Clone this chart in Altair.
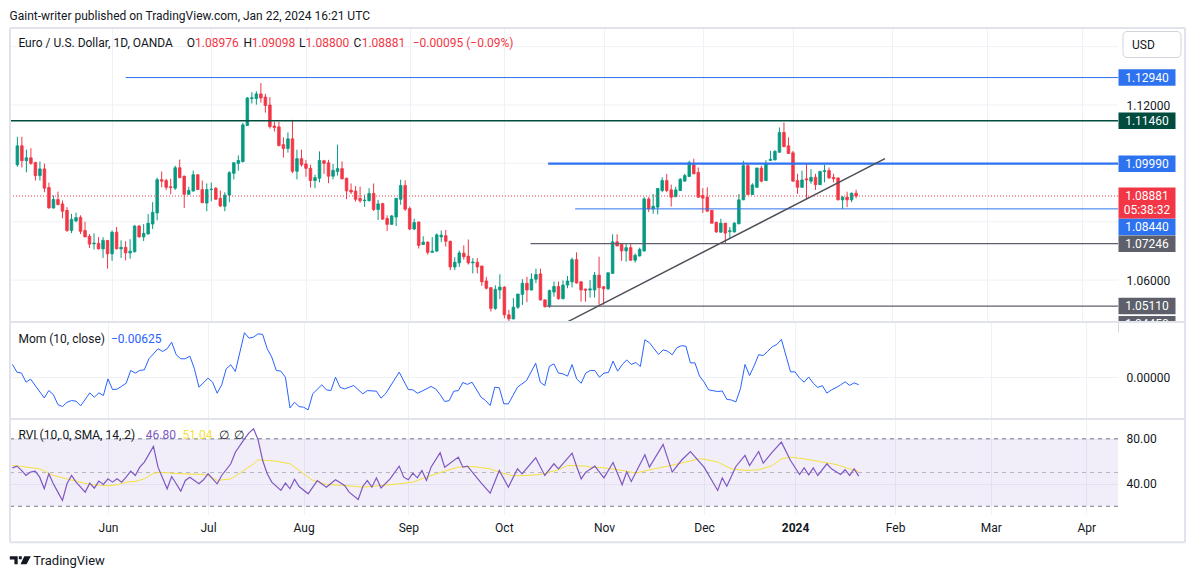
import altair as alt
import pandas as pd

# ---------------- data ----------------
OPEN = [1.0995, 1.1060, 1.1009, 1.1019, 1.1003, 1.0958, 1.0981, 1.0917, 1.0847, 1.0876,
        1.0861, 1.0839, 1.0770, 1.0803, 1.0815, 1.0770, 1.0750, 1.0724, 1.0726, 1.0707,
        1.0736, 1.0690, 1.0764, 1.0707, 1.0712, 1.0693, 1.0697, 1.0785, 1.0748, 1.0758,
        1.0792, 1.0830, 1.0944, 1.0941, 1.0920, 1.0915, 1.0985, 1.0956, 1.0894, 1.0905,
        1.0961, 1.0910, 1.0864, 1.0910, 1.0915, 1.0880, 1.0853, 1.0891, 1.0966, 1.1000,
        1.1006, 1.1130, 1.1222, 1.1222, 1.1238, 1.1227, 1.1200, 1.1128, 1.1125, 1.1064,
        1.1051, 1.1084, 1.0973, 1.1016, 1.0998, 1.0983, 1.0941, 1.0949, 1.1009, 1.1002,
        1.0956, 1.0972, 1.0982, 1.0949, 1.0908, 1.0905, 1.0880, 1.0872, 1.0872, 1.0897,
        1.0842, 1.0862, 1.0811, 1.0791, 1.0816, 1.0877, 1.0924, 1.0845, 1.0775, 1.0799,
        1.0722, 1.0730, 1.0695, 1.0699, 1.0748, 1.0752, 1.0733, 1.0645, 1.0659, 1.0692,
        1.0682, 1.0659, 1.0661, 1.0648, 1.0597, 1.0574, 1.0503, 1.0566, 1.0576, 1.0481,
        1.0467, 1.0507, 1.0551, 1.0589, 1.0566, 1.0603, 1.0621, 1.0532, 1.0511, 1.0559,
        1.0578, 1.0536, 1.0583, 1.0594, 1.0670, 1.0594, 1.0569, 1.0566, 1.0566, 1.0617,
        1.0577, 1.0570, 1.0623, 1.0731, 1.0722, 1.0700, 1.0711, 1.0668, 1.0683, 1.0700,
        1.0878, 1.0844, 1.0850, 1.0907, 1.0941, 1.0909, 1.0886, 1.0907, 1.0939, 1.0955,
        1.0995, 1.0969, 1.0890, 1.0884, 1.0839, 1.0798, 1.0764, 1.0795, 1.0766, 1.0765,
        1.0793, 1.0875, 1.0992, 1.0893, 1.0918, 1.0984, 1.0941, 1.1010, 1.1012, 1.1038,
        1.1106, 1.1060, 1.1036, 1.0941, 1.0918, 1.0947, 1.0939, 1.0952, 1.0927, 1.0972,
        1.0975, 1.0952, 1.0950, 1.0875, 1.0884, 1.0875, 1.08976]
HIGH = [1.1091, 1.1091, 1.1047, 1.1052, 1.1005, 1.1006, 1.0999, 1.0934, 1.0890, 1.0903,
        1.0873, 1.0850, 1.0827, 1.0831, 1.0822, 1.0800, 1.0758, 1.0760, 1.0747, 1.0747,
        1.0737, 1.0770, 1.0782, 1.0736, 1.0733, 1.0740, 1.0789, 1.0789, 1.0792, 1.0826,
        1.0867, 1.0951, 1.0972, 1.0947, 1.0947, 1.0992, 1.1013, 1.0958, 1.0920, 1.0975,
        1.0962, 1.0941, 1.0931, 1.0934, 1.0918, 1.0907, 1.0901, 1.0973, 1.1004, 1.1027,
        1.1139, 1.1227, 1.1244, 1.1247, 1.1275, 1.1238, 1.1227, 1.1143, 1.1143, 1.1089,
        1.1106, 1.1149, 1.1047, 1.1047, 1.1012, 1.0995, 1.0961, 1.1041, 1.1012, 1.1012,
        1.0998, 1.1064, 1.1007, 1.0951, 1.0931, 1.0922, 1.0920, 1.0893, 1.0915, 1.0931,
        1.0875, 1.0865, 1.0822, 1.0822, 1.0881, 1.0944, 1.0942, 1.0852, 1.0810, 1.0800,
        1.0750, 1.0733, 1.0747, 1.0760, 1.0770, 1.0772, 1.0735, 1.0678, 1.0701, 1.0719,
        1.0739, 1.0675, 1.0675, 1.0650, 1.0611, 1.0576, 1.0582, 1.0620, 1.0579, 1.0498,
        1.0538, 1.0553, 1.0603, 1.0611, 1.0623, 1.0639, 1.0639, 1.0534, 1.0567, 1.0595,
        1.0595, 1.0599, 1.0614, 1.0677, 1.0695, 1.0596, 1.0571, 1.0600, 1.0628, 1.0680,
        1.0580, 1.0626, 1.0757, 1.0757, 1.0723, 1.0725, 1.0726, 1.0691, 1.0711, 1.0884,
        1.0884, 1.0895, 1.0915, 1.0952, 1.0964, 1.0927, 1.0920, 1.0950, 1.0964, 1.1009,
        1.1016, 1.0986, 1.0915, 1.0918, 1.0840, 1.0800, 1.0810, 1.0796, 1.0782, 1.0799,
        1.0895, 1.1009, 1.0998, 1.0932, 1.0985, 1.0992, 1.1011, 1.1043, 1.1045, 1.1123,
        1.1140, 1.1089, 1.1043, 1.0964, 1.0975, 1.0998, 1.0980, 1.0964, 1.0975, 1.0995,
        1.0986, 1.0964, 1.0951, 1.0888, 1.0903, 1.0900, 1.09098]
LOW = [1.0988, 1.0986, 1.0969, 1.0995, 1.0941, 1.0941, 1.0901, 1.0845, 1.0845, 1.0856,
       1.0812, 1.0765, 1.0761, 1.0798, 1.0758, 1.0747, 1.0710, 1.0705, 1.0705, 1.0676,
       1.0639, 1.0666, 1.0705, 1.0676, 1.0668, 1.0673, 1.0695, 1.0745, 1.0734, 1.0756,
       1.0775, 1.0805, 1.0918, 1.0908, 1.0894, 1.0909, 1.0949, 1.0847, 1.0892, 1.0904,
       1.0909, 1.0864, 1.0836, 1.0870, 1.0875, 1.0850, 1.0836, 1.0867, 1.0945, 1.0975,
       1.1003, 1.1128, 1.1205, 1.1201, 1.1208, 1.1174, 1.1119, 1.1109, 1.1058, 1.1020,
       1.1037, 1.0966, 1.0945, 1.0989, 1.0954, 1.0917, 1.0915, 1.0935, 1.0964, 1.0932,
       1.0945, 1.0958, 1.0945, 1.0877, 1.0895, 1.0869, 1.0865, 1.0851, 1.0870, 1.0837,
       1.0806, 1.0806, 1.0768, 1.0790, 1.0785, 1.0858, 1.0837, 1.0771, 1.0771, 1.0708,
       1.0720, 1.0687, 1.0694, 1.0698, 1.0731, 1.0715, 1.0634, 1.0634, 1.0645, 1.0670,
       1.0653, 1.0623, 1.0623, 1.0580, 1.0568, 1.0492, 1.0498, 1.0535, 1.0469, 1.0448,
       1.0465, 1.0501, 1.0515, 1.0524, 1.0564, 1.0589, 1.0530, 1.0505, 1.0505, 1.0543,
       1.0533, 1.0534, 1.0572, 1.0575, 1.0588, 1.0526, 1.0526, 1.0540, 1.0540, 1.0515,
       1.0516, 1.0566, 1.0622, 1.0716, 1.0666, 1.0663, 1.0667, 1.0660, 1.0680, 1.0697,
       1.0833, 1.0827, 1.0825, 1.0901, 1.0901, 1.0852, 1.0884, 1.0905, 1.0939, 1.0954,
       1.0963, 1.0882, 1.0830, 1.0835, 1.0794, 1.0762, 1.0762, 1.0725, 1.0744, 1.0763,
       1.0791, 1.0874, 1.0892, 1.0892, 1.0917, 1.0935, 1.0940, 1.1009, 1.1010, 1.1037,
       1.1056, 1.1032, 1.0938, 1.0895, 1.0917, 1.0878, 1.0930, 1.0909, 1.0926, 1.0935,
       1.0947, 1.0935, 1.0873, 1.0844, 1.0850, 1.0867, 1.08800]
CLOSE = [1.1060, 1.1009, 1.1019, 1.1000, 1.0958, 1.0981, 1.0915, 1.0847, 1.0876, 1.0859,
         1.0836, 1.0770, 1.0808, 1.0814, 1.0767, 1.0748, 1.0723, 1.0727, 1.0707, 1.0736,
         1.0690, 1.0764, 1.0707, 1.0712, 1.0693, 1.0699, 1.0785, 1.0748, 1.0760, 1.0795,
         1.0832, 1.0944, 1.0939, 1.0918, 1.0917, 1.0985, 1.0951, 1.0894, 1.0907, 1.0961,
         1.0910, 1.0865, 1.0910, 1.0912, 1.0877, 1.0854, 1.0891, 1.0968, 1.1002, 1.1010,
         1.1132, 1.1224, 1.1225, 1.1238, 1.1224, 1.1198, 1.1126, 1.1123, 1.1061, 1.1051,
         1.1084, 1.0973, 1.1016, 1.0995, 1.0983, 1.0941, 1.0951, 1.1010, 1.1000, 1.0956,
         1.0976, 1.0982, 1.0947, 1.0906, 1.0902, 1.0877, 1.0872, 1.0874, 1.0897, 1.0842,
         1.0861, 1.0809, 1.0791, 1.0820, 1.0880, 1.0924, 1.0843, 1.0775, 1.0797, 1.0719,
         1.0730, 1.0695, 1.0699, 1.0755, 1.0754, 1.0733, 1.0645, 1.0661, 1.0693, 1.0680,
         1.0659, 1.0662, 1.0645, 1.0594, 1.0572, 1.0503, 1.0568, 1.0576, 1.0481, 1.0467,
         1.0507, 1.0552, 1.0589, 1.0566, 1.0603, 1.0619, 1.0532, 1.0509, 1.0564, 1.0578,
         1.0536, 1.0583, 1.0597, 1.0670, 1.0590, 1.0566, 1.0565, 1.0570, 1.0617, 1.0574,
         1.0570, 1.0625, 1.0731, 1.0717, 1.0700, 1.0711, 1.0668, 1.0685, 1.0705, 1.0878,
         1.0844, 1.0853, 1.0914, 1.0941, 1.0907, 1.0884, 1.0909, 1.0945, 1.0958, 1.1002,
         1.0964, 1.0884, 1.0881, 1.0836, 1.0795, 1.0765, 1.0795, 1.0761, 1.0769, 1.0795,
         1.0875, 1.0992, 1.0893, 1.0926, 1.0984, 1.0939, 1.0998, 1.1014, 1.1041, 1.1106,
         1.1057, 1.1034, 1.0939, 1.0918, 1.0943, 1.0943, 1.0952, 1.0927, 1.0972, 1.0975,
         1.0950, 1.0947, 1.0875, 1.0884, 1.0875, 1.08976, 1.08881]

MOM_IDX = [0, 1, 2, 3, 4, 7, 8, 9, 10, 11, 12, 13, 14, 15, 17, 18, 19, 20, 21, 22, 23, 24, 25,
           26, 27, 28, 29, 30, 31, 32, 33, 34, 35, 36, 37, 38, 39, 40, 41, 43, 44, 45, 46, 47,
           48, 49, 51, 52, 53, 54, 55, 56, 57, 58, 59, 60, 61, 62, 63, 64, 65, 66, 68, 69, 70,
           71, 72, 73, 74, 75, 77, 78, 80, 81, 82, 85, 87, 88, 89, 90, 92, 93, 94, 95, 96, 97,
           98, 99, 100, 101, 103, 104, 105, 106, 107, 108, 109, 110, 111, 113, 115, 116, 117,
           118, 119, 120, 121, 122, 123, 124, 125, 126, 127, 128, 129, 130, 131, 132, 133, 134,
           135, 136, 137, 138, 139, 140, 142, 143, 144, 145, 146, 147, 148, 149, 150, 151, 152,
           153, 154, 155, 156, 157, 158, 159, 160, 161, 162, 163, 164, 165, 166, 167, 168, 169,
           171, 172, 173, 174, 175, 176, 177, 178, 179, 180, 181, 182, 183, 184, 185, 186]
MOM_VAL = [0.0106, 0.0042, 0.0034, -0.0041, -0.0016, -0.0172, -0.0111, -0.0144, -0.0227,
           -0.0244, -0.0208, -0.0194, -0.0199, -0.0238, -0.0130, -0.0166, -0.0130, -0.0152,
           -0.0014, -0.0102, -0.0099, -0.0075, -0.0050, 0.0056, 0.0034, 0.0056, 0.0061, 0.0153,
           0.0194, 0.0236, 0.0214, 0.0236, 0.0291, 0.0186, 0.0153, 0.0153, 0.0175, 0.0070,
           -0.0083, -0.0008, -0.0041, -0.0133, -0.0063, 0.0070, 0.0103, 0.0047, 0.0369, 0.0324,
           0.0333, 0.0360, 0.0355, 0.0236, 0.0167, 0.0056, 0.0050, 0.0000, -0.0255, -0.0208,
           -0.0244, -0.0249, -0.0271, -0.0138, -0.0063, -0.0105, -0.0111, 0.0000, -0.0083,
           -0.0097, -0.0083, -0.0069, -0.0138, -0.0111, -0.0116, -0.0174, -0.0138, 0.0042,
           -0.0102, -0.0105, -0.0133, -0.0116, -0.0077, -0.0097, -0.0144, -0.0202, -0.0194,
           -0.0116, -0.0111, -0.0044, -0.0060, -0.0041, -0.0166, -0.0194, -0.0235, -0.0083,
           -0.0088, -0.0221, -0.0221, -0.0152, -0.0083, -0.0027, 0.0116, -0.0041, -0.0069,
           0.0089, 0.0111, 0.0034, 0.0028, 0.0009, 0.0105, -0.0014, -0.0050, 0.0034, 0.0056,
           0.0056, 0.0000, 0.0034, 0.0039, 0.0133, 0.0050, 0.0103, 0.0144, 0.0106, 0.0122,
           0.0089, 0.0311, 0.0286, 0.0189, 0.0227, 0.0216, 0.0186, 0.0244, 0.0261, 0.0258,
           0.0119, 0.0119, 0.0010, -0.0040, -0.0105, -0.0112, -0.0119, -0.0114, -0.0184,
           -0.0189, -0.0205, -0.0095, 0.0106, 0.0014, 0.0094, 0.0187, 0.0180, 0.0215, 0.0253,
           0.0272, 0.0314, 0.0045, 0.0044, -0.0008, -0.0041, 0.0002, -0.0050, -0.0085, -0.0070,
           -0.0132, -0.0105, -0.0087, -0.0064, -0.0038, -0.0068, -0.0047, -0.00625]

RVI_IDX = [0, 1, 2, 3, 4, 5, 6, 7, 8, 9, 10, 11, 12, 13, 14, 16, 17, 18, 19, 20, 21, 22, 23,
           24, 25, 26, 27, 28, 29, 31, 32, 34, 35, 36, 37, 38, 39, 40, 41, 42, 43, 44, 45, 46,
           48, 49, 51, 52, 53, 54, 55, 56, 57, 59, 60, 61, 62, 63, 65, 67, 69, 71, 73, 74, 76,
           77, 78, 79, 80, 81, 83, 85, 86, 87, 88, 89, 90, 91, 92, 94, 95, 98, 99, 100, 103,
           105, 107, 109, 111, 112, 115, 117, 119, 120, 123, 124, 125, 126, 127, 128, 130, 132,
           134, 135, 136, 139, 140, 143, 145, 147, 149, 152, 155, 156, 157, 159, 161, 162, 164,
           165, 167, 169, 171, 173, 174, 175, 176, 177, 179, 180, 182, 183, 184, 185, 186]
RVI_VAL = [54.2, 55.7, 51.9, 47.4, 50.4, 51.3, 45.9, 35.6, 48.9, 40.0, 32.6, 25.2, 40.0, 47.4,
           41.5, 32.6, 40.6, 36.1, 42.4, 39.4, 44.4, 41.5, 44.4, 41.5, 45.9, 51.3, 47.4, 54.8,
           59.3, 73.2, 54.8, 35.6, 46.5, 40.0, 33.5, 43.0, 45.9, 43.0, 40.0, 43.6, 48.9, 44.4,
           40.0, 47.4, 57.8, 68.1, 80.0, 85.3, 88.9, 79.1, 60.7, 48.9, 41.5, 34.1, 40.6, 35.6,
           44.1, 37.6, 31.1, 42.9, 37.0, 43.6, 38.5, 32.6, 26.1, 37.6, 42.9, 37.0, 45.3, 36.4,
           44.4, 55.7, 45.9, 43.6, 49.5, 45.3, 51.9, 43.0, 54.8, 67.6, 54.8, 63.7, 54.8, 55.7,
           40.9, 31.7, 51.9, 37.0, 53.3, 48.9, 63.1, 47.4, 57.8, 53.3, 67.3, 55.4, 44.4, 50.4,
           53.0, 55.7, 45.3, 58.9, 39.1, 50.7, 42.1, 65.8, 54.8, 75.0, 50.4, 60.7, 68.7, 54.8,
           34.1, 45.3, 37.9, 55.4, 65.2, 56.3, 68.7, 58.4, 68.1, 77.0, 60.7, 48.3, 54.2, 48.0,
           54.2, 47.4, 57.8, 53.3, 48.3, 52.5, 47.4, 53.3, 46.8]
SMA_IDX = [0, 2, 6, 9, 12, 17, 21, 23, 25, 27, 29, 31, 33, 37, 42, 43, 45, 48, 50, 53, 54, 58,
           61, 63, 66, 69, 73, 77, 81, 85, 88, 91, 95, 98, 101, 105, 107, 110, 113, 116, 120,
           122, 126, 127, 130, 134, 137, 140, 144, 147, 151, 152, 155, 158, 161, 164, 167, 169,
           171, 174, 178, 181, 184, 186]
SMA_VAL = [56.3, 55.4, 53.3, 47.4, 44.4, 39.4, 38.2, 39.1, 41.5, 42.1, 44.4, 49.5, 50.1, 48.9,
           48.3, 47.4, 43.0, 44.4, 49.5, 57.8, 61.3, 60.1, 57.8, 51.9, 43.0, 39.4, 38.5, 37.0,
           38.5, 40.0, 41.5, 45.9, 51.3, 54.8, 55.4, 53.3, 50.4, 47.1, 47.4, 48.3, 52.4, 56.3,
           55.7, 54.8, 54.2, 51.9, 49.5, 52.4, 55.7, 58.4, 62.2, 61.9, 59.3, 53.3, 51.9, 52.4,
           56.3, 62.2, 63.7, 62.2, 59.3, 57.2, 53.3, 51.04]

MONTH_IDX = [21, 43, 64, 87, 108, 130, 152, 172, 194, 215, 236]
MONTH_LBL = ["Jun", "Jul", "Aug", "Sep", "Oct", "Nov", "Dec", "2024", "Feb", "Mar", "Apr"]

PRICE_GRID = [1.04, 1.06, 1.08, 1.10, 1.12, 1.14]
PRICE_TICKS = [1.12, 1.06]
LEVEL_PRICE = [1.12940, 1.11460, 1.09990, 1.08440, 1.07246, 1.05110]
LEVEL_FROM = [24.0, -5.0, 117.7, 123.7, 113.8, 117.4]
OFFSCREEN_LEVEL = [1.04450]
TREND_IDX = [122.0, 192.4]
TREND_PRICE = [1.0457, 1.1016]
RVI_LEVELS = [80, 50, 20]
RVI_TICKS = [80, 40]
MOM_TICKS = [0.0]

# ---------------- styling / layout ----------------
FONT = "Roboto"
INK = "#131722"
GREEN, RED = "#089981", "#f23645"
BLUE, DKGREEN, GREY = "#2d72ef", "#004d40", "#5d606b"
PURPLE, YELLOW = "#7e57c2", "#f5e13c"
GRID, FRAME = "#eef1f6", "#e0e3eb"

W = 1108
H_P, H_M, H_R = 294, 97, 95
X_DOM = [-0.527, 242.97]
P_DOM = [1.04563, 1.14639]
M_DOM = [-0.03469, 0.04582]
R_DOM = [13.16, 97.6]
RIGHT = 1175
BOXX = 1137

ONE = pd.DataFrame({"k": [0]})


def minus(s):
    return s.replace("-", "\u2212")


def label(s, x, y, color=INK, size=12, align="left", weight="normal"):
    return alt.Chart(ONE).mark_text(align=align, baseline="middle", fontSize=size, font=FONT,
                                    color=color, fontWeight=weight, clip=False).encode(
        x=alt.value(x), y=alt.value(y), text=alt.value(s))


def vrule(x, y0, y1, color=FRAME, w=2):
    return alt.Chart(ONE).mark_rule(color=color, strokeWidth=w, clip=False).encode(
        x=alt.value(x), y=alt.value(y0), y2=alt.value(y1))


def hrule(y, x0, x1, color=FRAME, w=2):
    return alt.Chart(ONE).mark_rule(color=color, strokeWidth=w, clip=False).encode(
        x=alt.value(x0), x2=alt.value(x1), y=alt.value(y))


XS = alt.Scale(domain=X_DOM, nice=False, zero=False)
AX_XG = alt.Axis(values=MONTH_IDX, labels=False, ticks=False, domain=False, grid=True,
                 gridColor=GRID, title=None)
lbl_expr = " : ".join(f"datum.value == {i} ? '{t}'" for i, t in zip(MONTH_IDX, MONTH_LBL)) + " : ''"
bold_idx = MONTH_IDX[MONTH_LBL.index("2024")]
AX_XB = alt.Axis(values=MONTH_IDX, labelExpr=lbl_expr, ticks=False, domain=False, grid=True,
                 gridColor=GRID, title=None, labelPadding=8, labelOverlap=False, labelFlush=False,
                 labelFontWeight={"condition": {"test": f"datum.value == {bold_idx}", "value": "bold"},
                                  "value": "normal"})


def XP(f, axis=AX_XG):
    return alt.X(f, type="quantitative", scale=XS, axis=axis)


YS_P = alt.Scale(domain=P_DOM, nice=False, zero=False)
AX_P = alt.Axis(orient="right", values=PRICE_TICKS, format=".5f", grid=False, ticks=False,
                domain=False, labelPadding=8, title=None, labelAlign="left")


def YP(f):
    return alt.Y(f, type="quantitative", scale=YS_P, axis=AX_P)


# ---------------- price pane ----------------
N = len(CLOSE)
df = pd.DataFrame({"i": list(range(N)), "o": OPEN, "h": HIGH, "l": LOW, "c": CLOSE})
updown = alt.condition("datum.c >= datum.o", alt.value(GREEN), alt.value(RED))

anchor = alt.Chart(ONE).mark_rect(opacity=0).encode(
    x=alt.value(-2), x2=alt.value(1170), y=alt.value(-19.5), y2=alt.value(0))
hgrid = alt.Chart(pd.DataFrame({"p": PRICE_GRID})).mark_rule(color=GRID, clip=True).encode(
    x=alt.value(0), x2=alt.value(W), y=YP("p"))
wicks = alt.Chart(df).mark_rule(strokeWidth=1, clip=True).encode(
    x=XP("i"), y=YP("l"), y2="h", color=updown)
bodies = alt.Chart(df).mark_bar(size=2.6, strokeWidth=0.8, clip=True).encode(
    x=XP("i"), y=YP("o"), y2="c", color=updown, stroke=updown)

LEVEL_STYLE = [(BLUE, 1), (DKGREEN, 1.5), (BLUE, 2.2), (BLUE, 1), (GREY, 1.2), (GREY, 1.2)]
levels = []
for p, s, (col, sw) in zip(LEVEL_PRICE, LEVEL_FROM, LEVEL_STYLE):
    levels.append(alt.Chart(pd.DataFrame({"s": [s], "p": [p]})).mark_rule(
        color=col, strokeWidth=sw, clip=True).encode(x=XP("s"), x2=alt.value(W), y=YP("p")))

tdf = pd.DataFrame({"i": [TREND_IDX[0]], "i2": [TREND_IDX[1]],
                    "p": [TREND_PRICE[0]], "p2": [TREND_PRICE[1]]})
trend = alt.Chart(tdf).mark_rule(color="#4c4f59", strokeWidth=1.5, clip=True).encode(
    x=XP("i"), x2="i2", y=YP("p"), y2="p2")

last = alt.Chart(pd.DataFrame({"p": [CLOSE[-1]]})).mark_rule(
    color=RED, strokeDash=[1, 2], strokeWidth=1, clip=True).encode(
    x=alt.value(0), x2=alt.value(W), y=YP("p"))


def box(price, color, dy=0.0, h=16.5, w=57.0):
    d = pd.DataFrame({"p": [price]})
    r = h / w
    path = f"M-1,-{r:.4f}L1,-{r:.4f}L1,{r:.4f}L-1,{r:.4f}Z"
    return alt.Chart(d).mark_point(shape=path, size=w * w, filled=True, opacity=1, color=color,
                                   strokeWidth=0, yOffset=dy, clip=False).encode(
        x=alt.value(BOXX), y=YP("p"))


def boxtext(price, text, dy=0.0):
    d = pd.DataFrame({"p": [price], "t": [text]})
    return alt.Chart(d).mark_text(color="white", fontSize=12, font=FONT, align="center",
                                  baseline="middle", yOffset=dy, clip=False).encode(
        x=alt.value(BOXX), y=YP("p"), text="t:N")


box_colors = [BLUE, DKGREEN, BLUE, BLUE, GREY, GREY]
box_shift = [0, 0, 0, 18, 0, 0]
boxes = []
for p, col, dy in zip(LEVEL_PRICE, box_colors, box_shift):
    boxes += [box(p, col, dy), boxtext(p, f"{p:.5f}", dy)]
for p in OFFSCREEN_LEVEL:
    boxes += [box(p, GREY, -1), boxtext(p, f"{p:.5f}", -1)]
boxes += [box(CLOSE[-1], RED, 7, h=31),
          boxtext(CLOSE[-1], f"{CLOSE[-1]:.5f}"),
          boxtext(CLOSE[-1], "05:38:32", 14)]

usd_box = alt.Chart(ONE).mark_rect(fill="white", stroke="#d1d4dc", strokeWidth=1,
                                   cornerRadius=4, clip=False).encode(
    x=alt.value(1113), x2=alt.value(1171), y=alt.value(3.5), y2=alt.value(29.5))

prev = CLOSE[-2]
chg = CLOSE[-1] - prev
pct = chg / prev * 100
LY = 14.8
legend_p = [
    label("Gaint-writer published on TradingView.com, Jan 22, 2024 16:21 UTC", -0.4, -12.5),
    label("Euro / U.S. Dollar, 1D, OANDA", 8.4, LY),
    label("O", 176.7, LY), label(f"{OPEN[-1]:.5f}", 185.0, LY, RED),
    label("H", 233.5, LY), label(f"{HIGH[-1]:.5f}", 241.7, LY, RED),
    label("L", 289.0, LY), label(f"{LOW[-1]:.5f}", 295.5, LY, RED),
    label("C", 343.5, LY), label(f"{CLOSE[-1]:.5f}", 351.7, LY, RED),
    label(minus(f"{chg:.5f} ({pct:.2f}%)"), 402.7, LY, RED),
    label("USD", 1122, 16.5),
]
frame_p = [hrule(0, 0, RIGHT), vrule(0, 0, H_P), vrule(RIGHT, 0, H_P)]

price = alt.layer(anchor, hgrid, wicks, bodies, *levels, trend, last, *boxes, usd_box,
                  *legend_p, *frame_p).properties(width=W, height=H_P)

# ---------------- momentum pane ----------------
YS_M = alt.Scale(domain=M_DOM, nice=False, zero=False)
AX_M = alt.Axis(orient="right", values=MOM_TICKS, format=".5f", grid=True, gridColor=GRID,
                ticks=False, domain=False, labelPadding=8, title=None, labelAlign="left")
mdf = pd.DataFrame({"i": MOM_IDX, "v": MOM_VAL})
mom_line = alt.Chart(mdf).mark_line(color="#2962ff", strokeWidth=1, clip=True).encode(
    x=XP("i"), y=alt.Y("v:Q", scale=YS_M, axis=AX_M))
cover = alt.Chart(ONE).mark_rect(color="white", opacity=1, clip=False).encode(
    x=alt.value(1108.5), x2=alt.value(1174), y=alt.value(0), y2=alt.value(14))
legend_m = [label("Mom (10, close)", 8.4, 16.8),
            label(minus(f"{MOM_VAL[-1]:.5f}"), 101, 16.8, "#2962ff")]
mom = alt.layer(mom_line, cover, *legend_m, hrule(0, 0, RIGHT), vrule(0, 0, H_M),
                vrule(RIGHT, 0, H_M)).properties(width=W, height=H_M)

# ---------------- RVI pane ----------------
YS_R = alt.Scale(domain=R_DOM, nice=False, zero=False)
AX_R = alt.Axis(orient="right", values=RVI_TICKS, format=".2f", grid=True, gridColor=GRID,
                ticks=False, domain=False, labelPadding=8, title=None, labelAlign="left")


def YR(f):
    return alt.Y(f, type="quantitative", scale=YS_R, axis=AX_R)


band = alt.Chart(pd.DataFrame({"hi": [RVI_LEVELS[0]], "lo": [RVI_LEVELS[2]]})).mark_rect(
    color=PURPLE, opacity=0.1).encode(x=alt.value(0), x2=alt.value(W), y=YR("hi"), y2="lo")
dash_outer = alt.Chart(pd.DataFrame({"v": [RVI_LEVELS[0], RVI_LEVELS[2]]})).mark_rule(
    color="#787b86", strokeDash=[4, 4], strokeWidth=1).encode(
    x=alt.value(0), x2=alt.value(W), y=YR("v"))
dash_mid = alt.Chart(pd.DataFrame({"v": [RVI_LEVELS[1]]})).mark_rule(
    color="#b2b5be", strokeDash=[4, 4], strokeWidth=1).encode(
    x=alt.value(0), x2=alt.value(W), y=YR("v"))
sma_line = alt.Chart(pd.DataFrame({"i": SMA_IDX, "v": SMA_VAL})).mark_line(
    color=YELLOW, strokeWidth=1, clip=True).encode(x=XP("i", AX_XB), y=YR("v"))
rvi_line = alt.Chart(pd.DataFrame({"i": RVI_IDX, "v": RVI_VAL})).mark_line(
    color=PURPLE, strokeWidth=1.2, clip=True).encode(x=XP("i", AX_XB), y=YR("v"))
legend_r = [label("RVI (10, 0, SMA, 14, 2)", 8.4, 15.5),
            label(f"{RVI_VAL[-1]:.2f}", 135.8, 15.5, PURPLE),
            label(f"{SMA_VAL[-1]:.2f}", 172.4, 15.5, YELLOW),
            label("\u2205", 208.7, 15.5), label("\u2205", 224.3, 15.5)]
logo = alt.Chart(ONE).mark_point(
    shape="M-1,-0.38H-0.25V0.38H-0.56V-0.06H-1Z M-0.14,-0.38H0.14V-0.1H-0.14Z M0.38,-0.38H1L0.6,0.38H0.02Z",
    size=441, filled=True, color=INK, opacity=1, strokeWidth=0, clip=False).encode(
    x=alt.value(10.3), y=alt.value(141.2))
BOT = 123.2
rvi = alt.layer(band, dash_outer, dash_mid, sma_line, rvi_line, *legend_r,
                hrule(0, 0, RIGHT), vrule(0, 0, BOT), vrule(RIGHT, 0, BOT), hrule(BOT, 0, RIGHT),
                logo, label("TradingView", 23.3, 141.5, size=13)).properties(width=W, height=H_R)

chart = alt.vconcat(price, mom, rvi, spacing=0, bounds="flush").properties(
    padding={"left": 0, "top": 0, "right": 0, "bottom": 0}
).configure(background="white", font=FONT).configure_view(stroke=None).configure_axis(
    labelFont=FONT, labelFontSize=12, labelColor=INK)

chart.save("out.html", embed_options={"renderer": "svg", "actions": False})
